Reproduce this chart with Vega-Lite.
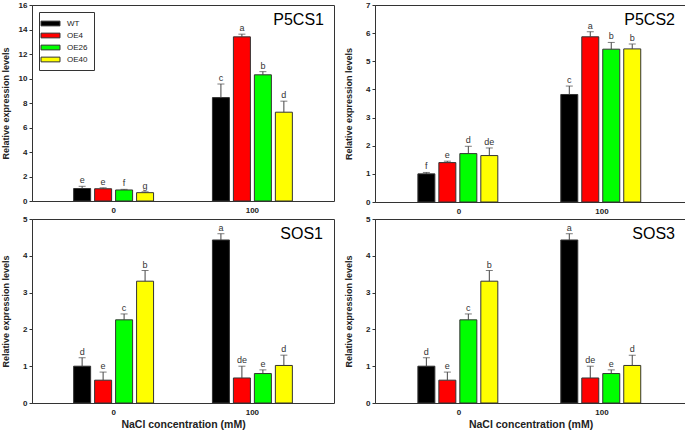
{
  "$schema": "https://vega.github.io/schema/vega-lite/v6.json",
  "padding": 0,
  "background": "white",
  "datasets": {
    "d": [
      {"gene": "P5CS1", "nacl": "0", "geno": "WT", "value": 1.02, "hi": 1.2, "letter": "e"},
      {"gene": "P5CS1", "nacl": "0", "geno": "OE4", "value": 1.0, "hi": 1.08, "letter": "e"},
      {"gene": "P5CS1", "nacl": "0", "geno": "OE26", "value": 0.9, "hi": 0.95, "letter": "f"},
      {"gene": "P5CS1", "nacl": "0", "geno": "OE40", "value": 0.68, "hi": 0.75, "letter": "g"},
      {"gene": "P5CS1", "nacl": "100", "geno": "WT", "value": 8.44, "hi": 9.55, "letter": "c"},
      {"gene": "P5CS1", "nacl": "100", "geno": "OE4", "value": 13.4, "hi": 13.62, "letter": "a"},
      {"gene": "P5CS1", "nacl": "100", "geno": "OE26", "value": 10.3, "hi": 10.56, "letter": "b"},
      {"gene": "P5CS1", "nacl": "100", "geno": "OE40", "value": 7.25, "hi": 8.15, "letter": "d"},
      {"gene": "P5CS2", "nacl": "0", "geno": "WT", "value": 1.0, "hi": 1.05, "letter": "f"},
      {"gene": "P5CS2", "nacl": "0", "geno": "OE4", "value": 1.4, "hi": 1.45, "letter": "e"},
      {"gene": "P5CS2", "nacl": "0", "geno": "OE26", "value": 1.72, "hi": 1.98, "letter": "d"},
      {"gene": "P5CS2", "nacl": "0", "geno": "OE40", "value": 1.65, "hi": 1.92, "letter": "de"},
      {"gene": "P5CS2", "nacl": "100", "geno": "WT", "value": 3.82, "hi": 4.12, "letter": "c"},
      {"gene": "P5CS2", "nacl": "100", "geno": "OE4", "value": 5.87, "hi": 6.05, "letter": "a"},
      {"gene": "P5CS2", "nacl": "100", "geno": "OE26", "value": 5.43, "hi": 5.67, "letter": "b"},
      {"gene": "P5CS2", "nacl": "100", "geno": "OE40", "value": 5.44, "hi": 5.61, "letter": "b"},
      {"gene": "SOS1", "nacl": "0", "geno": "WT", "value": 1.0, "hi": 1.23, "letter": "d"},
      {"gene": "SOS1", "nacl": "0", "geno": "OE4", "value": 0.62, "hi": 0.84, "letter": "e"},
      {"gene": "SOS1", "nacl": "0", "geno": "OE26", "value": 2.26, "hi": 2.42, "letter": "c"},
      {"gene": "SOS1", "nacl": "0", "geno": "OE40", "value": 3.31, "hi": 3.6, "letter": "b"},
      {"gene": "SOS1", "nacl": "100", "geno": "WT", "value": 4.43, "hi": 4.6, "letter": "a"},
      {"gene": "SOS1", "nacl": "100", "geno": "OE4", "value": 0.68, "hi": 1.0, "letter": "de"},
      {"gene": "SOS1", "nacl": "100", "geno": "OE26", "value": 0.8, "hi": 0.9, "letter": "e"},
      {"gene": "SOS1", "nacl": "100", "geno": "OE40", "value": 1.02, "hi": 1.3, "letter": "d"},
      {"gene": "SOS3", "nacl": "0", "geno": "WT", "value": 1.0, "hi": 1.23, "letter": "d"},
      {"gene": "SOS3", "nacl": "0", "geno": "OE4", "value": 0.62, "hi": 0.84, "letter": "e"},
      {"gene": "SOS3", "nacl": "0", "geno": "OE26", "value": 2.26, "hi": 2.42, "letter": "c"},
      {"gene": "SOS3", "nacl": "0", "geno": "OE40", "value": 3.31, "hi": 3.6, "letter": "b"},
      {"gene": "SOS3", "nacl": "100", "geno": "WT", "value": 4.43, "hi": 4.6, "letter": "a"},
      {"gene": "SOS3", "nacl": "100", "geno": "OE4", "value": 0.68, "hi": 1.0, "letter": "de"},
      {"gene": "SOS3", "nacl": "100", "geno": "OE26", "value": 0.8, "hi": 0.9, "letter": "e"},
      {"gene": "SOS3", "nacl": "100", "geno": "OE40", "value": 1.02, "hi": 1.3, "letter": "d"}
    ]
  },
  "data": {"name": "d"},
  "spacing": -2,
  "resolve": {"legend": {"fill": "independent"}, "scale": {"fill": "independent"}},
  "vconcat": [
    {
      "spacing": 8,
      "resolve": {"legend": {"fill": "independent"}, "scale": {"fill": "independent"}},
      "hconcat": [
        {
          "width": 302, "height": 196,
          "title": {"text": "P5CS1", "dx": -10},
          "transform": [{"filter": "datum.gene === 'P5CS1'"}],
          "encoding": {
            "x": {"field": "nacl", "type": "nominal", "sort": ["0", "100"], "scale": {"paddingInner": 0.424, "paddingOuter": 0.3}, "axis": {"title": null}},
            "xOffset": {"field": "geno", "type": "nominal", "sort": ["WT", "OE4", "OE26", "OE40"], "scale": {"paddingInner": 0.19, "paddingOuter": 0}}
          },
          "layer": [
            {"mark": {"type": "bar", "stroke": "#333", "strokeWidth": 1},
             "encoding": {
               "y": {"field": "value", "type": "quantitative", "title": "Relative expression levels", "scale": {"domain": [0, 16], "nice": false}, "axis": {"values": [0, 2, 4, 6, 8, 10, 12, 14, 16], "labelOverlap": false, "tickCount": 9}},
               "fill": {"field": "geno", "type": "nominal", "sort": ["WT", "OE4", "OE26", "OE40"], "scale": {"domain": ["WT", "OE4", "OE26", "OE40"], "range": ["#000000", "#ff0000", "#00ff00", "#ffff00"]}, "legend": {"title": null}}
             }},
            {"mark": {"type": "rule", "color": "#444", "strokeWidth": 1},
             "encoding": {"y": {"field": "value", "type": "quantitative", "title": "Relative expression levels", "scale": {"domain": [0, 16], "nice": false}}, "y2": {"field": "hi"}}},
            {"mark": {"type": "tick", "orient": "horizontal", "size": 7, "thickness": 1, "color": "#444"},
             "encoding": {"y": {"field": "hi", "type": "quantitative", "title": "Relative expression levels", "scale": {"domain": [0, 16], "nice": false}}}},
            {"mark": {"type": "text", "baseline": "bottom", "dy": -1, "fontSize": 9, "color": "#333"},
             "encoding": {"y": {"field": "hi", "type": "quantitative", "title": "Relative expression levels", "scale": {"domain": [0, 16], "nice": false}}, "text": {"field": "letter"}}}
          ]
        },
        {
          "width": 311, "height": 197,
          "title": {"text": "P5CS2", "dx": -11},
          "transform": [{"filter": "datum.gene === 'P5CS2'"}],
          "encoding": {
            "x": {"field": "nacl", "type": "nominal", "sort": ["0", "100"], "scale": {"paddingInner": 0.424, "paddingOuter": 0.3}, "axis": {"title": null}},
            "xOffset": {"field": "geno", "type": "nominal", "sort": ["WT", "OE4", "OE26", "OE40"], "scale": {"paddingInner": 0.19, "paddingOuter": 0}}
          },
          "layer": [
            {"mark": {"type": "bar", "stroke": "#333", "strokeWidth": 1},
             "encoding": {
               "y": {"field": "value", "type": "quantitative", "title": "Relative expression levels", "scale": {"domain": [0, 7], "nice": false}, "axis": {"values": [0, 1, 2, 3, 4, 5, 6, 7], "labelOverlap": false, "tickCount": 8}},
               "fill": {"field": "geno", "type": "nominal", "sort": ["WT", "OE4", "OE26", "OE40"], "scale": {"domain": ["WT", "OE4", "OE26", "OE40"], "range": ["#000000", "#ff0000", "#00ff00", "#ffff00"]}, "legend": null}
             }},
            {"mark": {"type": "rule", "color": "#444", "strokeWidth": 1},
             "encoding": {"y": {"field": "value", "type": "quantitative", "title": "Relative expression levels", "scale": {"domain": [0, 7], "nice": false}}, "y2": {"field": "hi"}}},
            {"mark": {"type": "tick", "orient": "horizontal", "size": 7, "thickness": 1, "color": "#444"},
             "encoding": {"y": {"field": "hi", "type": "quantitative", "title": "Relative expression levels", "scale": {"domain": [0, 7], "nice": false}}}},
            {"mark": {"type": "text", "baseline": "bottom", "dy": -1, "fontSize": 9, "color": "#333"},
             "encoding": {"y": {"field": "hi", "type": "quantitative", "title": "Relative expression levels", "scale": {"domain": [0, 7], "nice": false}}, "text": {"field": "letter"}}}
          ]
        }
      ]
    },
    {
      "spacing": 8,
      "resolve": {"legend": {"fill": "independent"}, "scale": {"fill": "independent"}},
      "hconcat": [
        {
          "width": 302, "height": 184,
          "title": {"text": "SOS1", "dx": -11},
          "transform": [{"filter": "datum.gene === 'SOS1'"}],
          "encoding": {
            "x": {"field": "nacl", "type": "nominal", "sort": ["0", "100"], "scale": {"paddingInner": 0.424, "paddingOuter": 0.3}, "axis": {"title": "NaCl concentration (mM)"}},
            "xOffset": {"field": "geno", "type": "nominal", "sort": ["WT", "OE4", "OE26", "OE40"], "scale": {"paddingInner": 0.19, "paddingOuter": 0}}
          },
          "layer": [
            {"mark": {"type": "bar", "stroke": "#333", "strokeWidth": 1},
             "encoding": {
               "y": {"field": "value", "type": "quantitative", "title": "Relative expression levels", "scale": {"domain": [0, 5], "nice": false}, "axis": {"values": [0, 1, 2, 3, 4, 5], "labelOverlap": false, "tickCount": 6}},
               "fill": {"field": "geno", "type": "nominal", "sort": ["WT", "OE4", "OE26", "OE40"], "scale": {"domain": ["WT", "OE4", "OE26", "OE40"], "range": ["#000000", "#ff0000", "#00ff00", "#ffff00"]}, "legend": null}
             }},
            {"mark": {"type": "rule", "color": "#444", "strokeWidth": 1},
             "encoding": {"y": {"field": "value", "type": "quantitative", "title": "Relative expression levels", "scale": {"domain": [0, 5], "nice": false}}, "y2": {"field": "hi"}}},
            {"mark": {"type": "tick", "orient": "horizontal", "size": 7, "thickness": 1, "color": "#444"},
             "encoding": {"y": {"field": "hi", "type": "quantitative", "title": "Relative expression levels", "scale": {"domain": [0, 5], "nice": false}}}},
            {"mark": {"type": "text", "baseline": "bottom", "dy": -1, "fontSize": 9, "color": "#333"},
             "encoding": {"y": {"field": "hi", "type": "quantitative", "title": "Relative expression levels", "scale": {"domain": [0, 5], "nice": false}}, "text": {"field": "letter"}}}
          ]
        },
        {
          "width": 311, "height": 184,
          "title": {"text": "SOS3", "dx": -11},
          "transform": [{"filter": "datum.gene === 'SOS3'"}],
          "encoding": {
            "x": {"field": "nacl", "type": "nominal", "sort": ["0", "100"], "scale": {"paddingInner": 0.424, "paddingOuter": 0.3}, "axis": {"title": "NaCl concentration (mM)"}},
            "xOffset": {"field": "geno", "type": "nominal", "sort": ["WT", "OE4", "OE26", "OE40"], "scale": {"paddingInner": 0.19, "paddingOuter": 0}}
          },
          "layer": [
            {"mark": {"type": "bar", "stroke": "#333", "strokeWidth": 1},
             "encoding": {
               "y": {"field": "value", "type": "quantitative", "title": "Relative expression levels", "scale": {"domain": [0, 5], "nice": false}, "axis": {"values": [0, 1, 2, 3, 4, 5], "labelOverlap": false, "tickCount": 6}},
               "fill": {"field": "geno", "type": "nominal", "sort": ["WT", "OE4", "OE26", "OE40"], "scale": {"domain": ["WT", "OE4", "OE26", "OE40"], "range": ["#000000", "#ff0000", "#00ff00", "#ffff00"]}, "legend": null}
             }},
            {"mark": {"type": "rule", "color": "#444", "strokeWidth": 1},
             "encoding": {"y": {"field": "value", "type": "quantitative", "title": "Relative expression levels", "scale": {"domain": [0, 5], "nice": false}}, "y2": {"field": "hi"}}},
            {"mark": {"type": "tick", "orient": "horizontal", "size": 7, "thickness": 1, "color": "#444"},
             "encoding": {"y": {"field": "hi", "type": "quantitative", "title": "Relative expression levels", "scale": {"domain": [0, 5], "nice": false}}}},
            {"mark": {"type": "text", "baseline": "bottom", "dy": -1, "fontSize": 9, "color": "#333"},
             "encoding": {"y": {"field": "hi", "type": "quantitative", "title": "Relative expression levels", "scale": {"domain": [0, 5], "nice": false}}, "text": {"field": "letter"}}}
          ]
        }
      ]
    }
  ],
  "config": {
    "font": "Liberation Sans",
    "view": {"stroke": "#333", "strokeWidth": 1},
    "title": {"font": "Liberation Sans", "fontSize": 16, "fontWeight": "normal", "color": "black", "anchor": "end", "frame": "group", "offset": -27, "baseline": "alphabetic"},
    "axis": {"grid": false, "labelFont": "Liberation Sans", "labelFontWeight": "bold", "labelFontSize": 8, "labelColor": "#222", "titleFont": "Liberation Sans", "titleFontWeight": "bold", "titleColor": "#222", "domainColor": "#333", "tickColor": "#333", "labelOverlap": false},
    "axisY": {"tickSize": 3, "labelPadding": 2, "minExtent": 15, "maxExtent": 15, "titlePadding": 7, "titleFontSize": 9, "labelOverlap": false},
    "axisX": {"ticks": false, "labelPadding": 5, "labelAngle": 0, "titleFontSize": 10.5, "titlePadding": 3, "domain": false},
    "legend": {"orient": "top-left", "offset": 7, "padding": 6, "strokeColor": "#333", "fillColor": "white", "labelFont": "Liberation Sans", "labelFontSize": 8, "labelColor": "#222", "symbolType": "M-2,-0.5H2V0.5H-2Z", "symbolSize": 90, "symbolStrokeColor": "#333", "symbolStrokeWidth": 1, "labelOffset": 11, "rowPadding": 2}
  }
}
